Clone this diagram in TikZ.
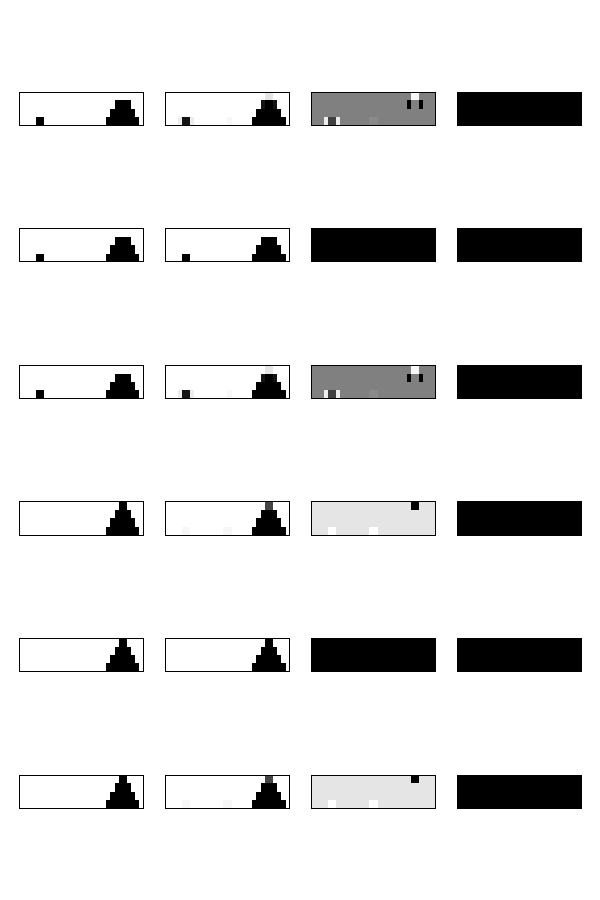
\documentclass[tikz,border=0pt]{standalone}
\usepackage{tikz}
\definecolor{cMid}{gray}{0.5}
\definecolor{cMidB}{gray}{0.54}
\definecolor{cLight}{gray}{0.90}
\definecolor{cPale}{gray}{0.93}
\definecolor{cFaint}{gray}{0.97}
\definecolor{cDark}{gray}{0.25}
\definecolor{cDarkB}{gray}{0.27}
\definecolor{cNear}{gray}{0.08}
\definecolor{cBgH}{gray}{0.90}
\tikzset{frame/.style={draw=black,line width=0.9pt}}
\newcommand\cellfill[5]{\fill[#5] (#1,#2) rectangle (#3,#4);}
\newcommand\triA{\cellfill{23}{1}{27}{2}{black}\cellfill{22}{2}{28}{3}{black}\cellfill{21}{3}{29}{4}{black}}
\newcommand\sqA{\cellfill{4}{3}{6}{4}{black}}
% panel types
\newcommand\typeA{\triA\sqA}
\newcommand\typeB{\triA
  \cellfill{23}{1}{24}{2}{cNear}\cellfill{26}{1}{27}{2}{cNear}
  \cellfill{24}{0}{26}{1}{cLight}
  \cellfill{3}{3}{4}{4}{cPale}\cellfill{4}{3}{6}{4}{cNear}\cellfill{6}{3}{7}{4}{cPale}
  \cellfill{15}{3}{16}{4}{cFaint}}
\newcommand\typeC{\cellfill{0}{0}{30}{4}{cMid}
  \cellfill{24}{0}{26}{1}{cFaint}
  \cellfill{23}{1}{24}{2}{black}\cellfill{26}{1}{27}{2}{black}
  \cellfill{3}{3}{4}{4}{cPale}\cellfill{4}{3}{6}{4}{cDark}\cellfill{6}{3}{7}{4}{cPale}
  \cellfill{14}{3}{16}{4}{cMidB}}
\newcommand\typeD{\cellfill{0}{0}{30}{4}{black}}
\newcommand\typeF{\triA\cellfill{24}{0}{26}{1}{black}}
\newcommand\typeG{\triA\cellfill{24}{0}{26}{1}{cDarkB}
  \cellfill{4}{3}{6}{4}{cFaint}\cellfill{14}{3}{16}{4}{cFaint}}
\newcommand\typeH{\cellfill{0}{0}{30}{4}{cBgH}
  \cellfill{24}{0}{26}{1}{black}
  \cellfill{4}{3}{6}{4}{white}\cellfill{14}{3}{16}{4}{white}}
\newcommand\pnl[3]{%
  \begin{scope}[shift={(#1*146.1pt+19pt,-#2*136.6pt-92pt)},x=4.153pt,y=-8.3pt]
    #3
    \draw[frame] (0,0) rectangle (30,4);
  \end{scope}}
\begin{document}
\begin{tikzpicture}
\useasboundingbox[fill=white] (0,0) rectangle (600pt,-900pt);
% row 1
\pnl{0}{0}{\typeA}\pnl{1}{0}{\typeB}\pnl{2}{0}{\typeC}\pnl{3}{0}{\typeD}
% row 2
\pnl{0}{1}{\typeA}\pnl{1}{1}{\typeA}\pnl{2}{1}{\typeD}\pnl{3}{1}{\typeD}
% row 3
\pnl{0}{2}{\typeA}\pnl{1}{2}{\typeB}\pnl{2}{2}{\typeC}\pnl{3}{2}{\typeD}
% row 4
\pnl{0}{3}{\typeF}\pnl{1}{3}{\typeG}\pnl{2}{3}{\typeH}\pnl{3}{3}{\typeD}
% row 5
\pnl{0}{4}{\typeF}\pnl{1}{4}{\typeF}\pnl{2}{4}{\typeD}\pnl{3}{4}{\typeD}
% row 6
\pnl{0}{5}{\typeF}\pnl{1}{5}{\typeG}\pnl{2}{5}{\typeH}\pnl{3}{5}{\typeD}
\end{tikzpicture}
\end{document}
